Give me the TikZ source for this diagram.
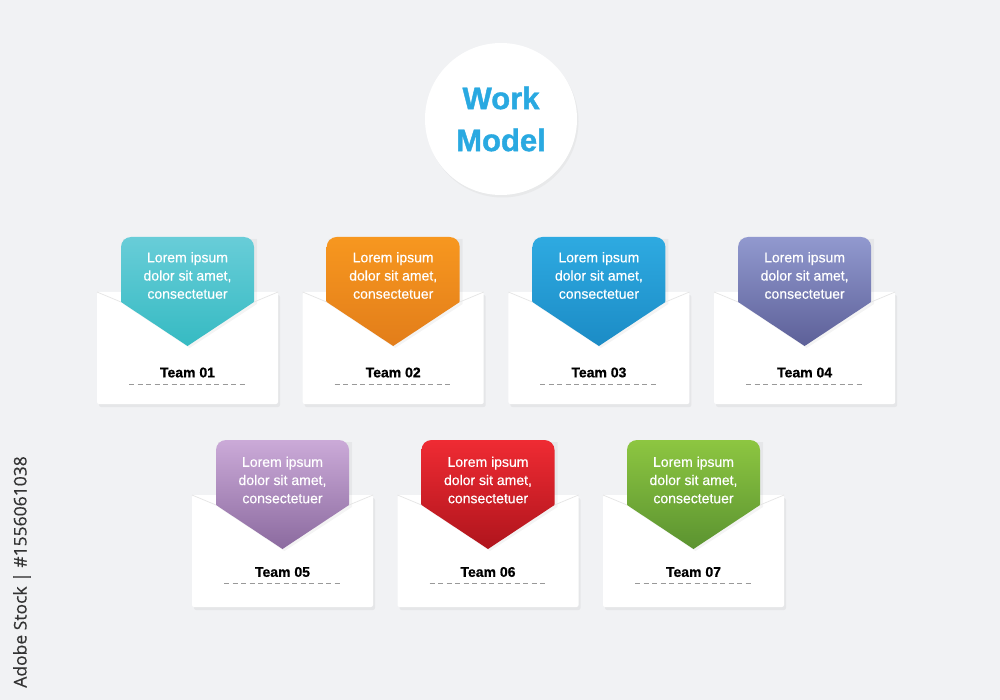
\documentclass[tikz,border=0pt]{standalone}
\usepackage{fontspec}
\setmainfont{Liberation Sans}
\newfontface\sidefont{Open Sans}[FakeBold=0.35]
\newfontface\cardfont{Liberation Sans}[FakeBold=0.45]
\newfontface\labelfont{Liberation Sans Bold}[FakeBold=0.7]
\newfontface\titlefont{Liberation Sans Bold}[FakeBold=1.3]
\usetikzlibrary{shadows}
\definecolor{bg}{HTML}{F1F2F4}
\definecolor{titleblue}{HTML}{29A9E1}
\definecolor{tealA}{HTML}{68CDD8}\definecolor{tealB}{HTML}{35BAC2}
\definecolor{orangeA}{HTML}{F7971F}\definecolor{orangeB}{HTML}{E27D1A}
\definecolor{blueA}{HTML}{2EAAE1}\definecolor{blueB}{HTML}{1B8BC5}
\definecolor{violetA}{HTML}{9199CF}\definecolor{violetB}{HTML}{5C5F97}
\definecolor{lilacA}{HTML}{CBAAD8}\definecolor{lilacB}{HTML}{8A699E}
\definecolor{redA}{HTML}{EF2B33}\definecolor{redB}{HTML}{AE141C}
\definecolor{greenA}{HTML}{8DC641}\definecolor{greenB}{HTML}{5A9230}
\tikzset{
  envbox/.style={fill=white, rounded corners=2pt,
    drop shadow={opacity=0.10, shadow xshift=2pt, shadow yshift=-3pt}},
  cardshadow/.style={fill=black, opacity=0.045},
  cardtext/.style={text=white, font=\cardfont\fontsize{14}{18.2}\selectfont, align=center},
  teamlabel/.style={font=\labelfont\fontsize{14}{16}\selectfont, text=black},
  dashline/.style={draw=gray!80, line width=0.9pt, dash pattern=on 5pt off 3.5pt},
  flapline/.style={draw=black!10, line width=0.7pt},
  titlecircle/.style={circle, fill=white, minimum size=152pt, inner sep=0pt,
    drop shadow={opacity=0.08, shadow xshift=1.5pt, shadow yshift=-2.5pt}},
}
% #1 name, #2 x, #3 y, #4 top colour, #5 bottom colour, #6 label, #7 text y, #8 label y
\newcommand\teamenv[8]{%
  \begin{scope}[shift={(#2,#3)}]
    \path[envbox] (0,0) rectangle (181,112);
    \fill[cardshadow] (26,12) -- (26,-53) -- (160,-53) -- (160,12) -- (92.5,56) -- cycle;
    \begin{scope}
      \clip (24,10) -- (24,-60) -- (157,-60) -- (157,10) -- (90.5,54) -- cycle;
      \shade[top color=#4, bottom color=#5, rounded corners=10pt] (24,-55) rectangle (157,56);
    \end{scope}
    \draw[flapline] (0,0) -- (24,10) (157,10) -- (181,0);
    \node[cardtext] (#1text) at (90.5,#7) {Lorem ipsum\\dolor sit amet,\\consectetuer};
    \node[teamlabel] (#1label) at (90.5,#8) {#6};
    \coordinate (#1dashL) at (32,#8+11.5);
    \coordinate (#1dashR) at (149,#8+11.5);
    \draw[dashline] (#1dashL) -- (#1dashR);
  \end{scope}}
\begin{document}
\begin{tikzpicture}[x=1pt,y=-1pt]
  \fill[bg] (0,0) rectangle (1000,700);
  \useasboundingbox (0,0) rectangle (1000,700);
  \node[titlecircle, align=center, text=titleblue,
        font=\titlefont\fontsize{31}{42}\selectfont] (title) at (501,119) {Work\\Model};
  \teamenv{t1}{97}{292}{tealA}{tealB}{Team 01}{-16.5}{80.5}
  \teamenv{t2}{302.7}{292}{orangeA}{orangeB}{Team 02}{-16.5}{80.5}
  \teamenv{t3}{508.4}{292}{blueA}{blueB}{Team 03}{-16.5}{80.5}
  \teamenv{t4}{714.1}{292}{violetA}{violetB}{Team 04}{-16.5}{80.5}
  \teamenv{t5}{192}{495}{lilacA}{lilacB}{Team 05}{-15}{77}
  \teamenv{t6}{397.5}{495}{redA}{redB}{Team 06}{-15}{77}
  \teamenv{t7}{603}{495}{greenA}{greenB}{Team 07}{-15}{77}
  \node[rotate=90, font=\sidefont\fontsize{17.5}{20}\selectfont, text=black!80] (stock) at (22,572) {Adobe Stock | \#1556061038};
\end{tikzpicture}
\end{document}
